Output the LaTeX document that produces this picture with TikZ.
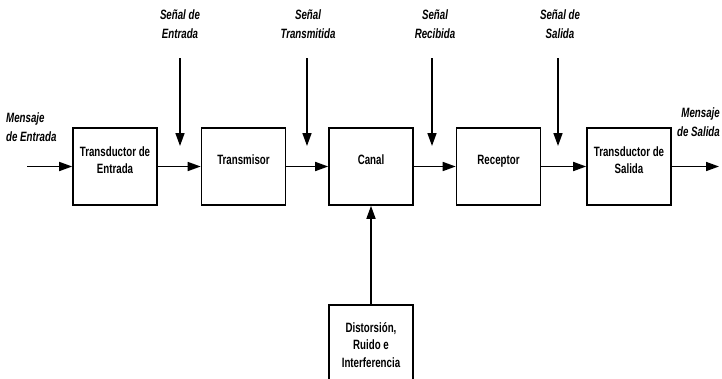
\documentclass[tikz,border=0pt]{standalone}
\usepackage{fontspec}
\setmainfont[FakeStretch=0.72]{Liberation Sans}
\usetikzlibrary{arrows.meta}
\begin{document}
\begin{tikzpicture}[x=1pt,y=-1pt,
  blk/.style={draw, line width=1.6pt, minimum width=84pt, minimum height=77pt, inner sep=0pt, align=center, font=\fontsize{13.5}{17.5}\selectfont\bfseries},
  up/.style={text depth=13pt},
  lbl/.style={inner sep=0pt, align=center, font=\fontsize{13.5}{18.5}\selectfont\bfseries\itshape},
  arr/.style={line width=1.6pt, -{Triangle[length=13pt,width=9pt]}}]
\useasboundingbox (0,0) rectangle (722,378);
% blocks
\node[blk,up] (te) at (115,166.5) {Transductor de\\Entrada};
\node[blk,up] (tx) at (243.5,166.5) {Transmisor};
\node[blk,up] (ca) at (371,166.5) {Canal};
\node[blk,up] (rx) at (498.5,166.5) {Receptor};
\node[blk,up] (ts) at (629,166.5) {Transductor de\\Salida};
\node[blk, anchor=north, minimum height=80pt] (di) at (371,304) {Distorsión,\\Ruido e\\Interferencia};
% horizontal flow
\coordinate (in) at (27,166.5);
\coordinate (out) at (719,166.5);
\draw[arr] (in) -- (te.west);
\draw[arr] (te.east) -- (tx.west);
\draw[arr] (tx.east) -- (ca.west);
\draw[arr] (ca.east) -- (rx.west);
\draw[arr] (rx.east) -- (ts.west);
\draw[arr] (ts.east) -- (out);
\draw[arr] (di.north) -- (ca.south);
% vertical signal arrows
\coordinate (s1) at (180,58);  \coordinate (e1) at (180,146);
\coordinate (s2) at (307,58);  \coordinate (e2) at (307,146);
\coordinate (s3) at (432,58);  \coordinate (e3) at (432,146);
\coordinate (s4) at (558,58);  \coordinate (e4) at (558,146);
\draw[arr] (s1) -- (e1);
\draw[arr] (s2) -- (e2);
\draw[arr] (s3) -- (e3);
\draw[arr] (s4) -- (e4);
% labels
\node[lbl] (l1) at (180,24) {Señal de\\Entrada};
\node[lbl] (l2) at (308,24) {Señal\\Transmitida};
\node[lbl] (l3) at (435,24) {Señal\\Recibida};
\node[lbl] (l4) at (560,24) {Señal de\\Salida};
\node[lbl, align=left, anchor=west] (lin) at (6,127) {Mensaje\\de Entrada};
\node[lbl, align=right, anchor=east] (lout) at (720,122) {Mensaje\\de Salida};
\end{tikzpicture}
\end{document}
